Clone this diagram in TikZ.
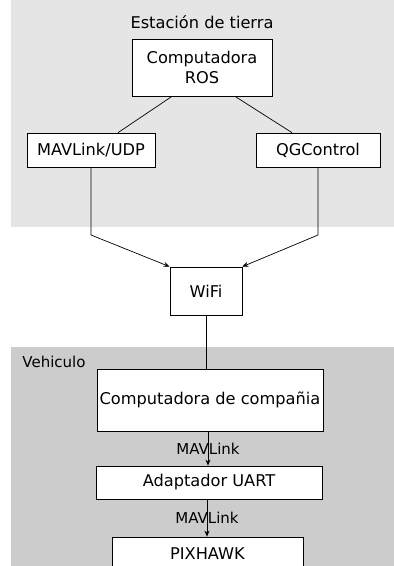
\documentclass[tikz,border=0pt]{standalone}
\usepackage{fontspec}
\setmainfont{DejaVu Sans}
\usetikzlibrary{arrows.meta}

\tikzset{
  box/.style={draw, fill=white, line width=0.7pt, font=\fontsize{16.2}{20}\selectfont, align=center, inner sep=0pt},
  link/.style={line width=0.7pt},
  flow/.style={line width=0.7pt, -{Stealth[length=6pt,width=5pt]}},
  tag/.style={font=\fontsize{15}{18}\selectfont}
}

\begin{document}
\begin{tikzpicture}[x=1pt,y=-1pt]
            \clip (0,0) rectangle (394,566);
            \fill[gray!20] (11,0) rectangle (394,227);
            \fill[gray!40] (11,347) rectangle (394,566);

            \node (T1) at (202,22) {\fontsize{16.2}{20}\selectfont Estación de tierra};
            \node[tag] (T2) at (54,362) {Vehiculo};

            \node[box, minimum width=140pt, minimum height=57pt] (ROS) at (202,67.5) {Computadora\\ROS};
            \node[box, minimum width=128pt, minimum height=34pt] (MAV) at (91,150) {MAVLink/UDP};
            \node[box, minimum width=124pt, minimum height=34pt] (QGC) at (318,150) {QGControl};
            \node[box, minimum width=72pt, minimum height=48pt] (WIFI) at (206,291) {WiFi};
            \node[box, minimum width=226pt, minimum height=62pt] (CC) at (210,400) {Computadora de compañia};
            \node[box, minimum width=226pt, minimum height=33pt] (UART) at (209,482.5) {Adaptador UART};
            \node[box, minimum width=191pt, minimum height=34pt] (PX) at (207.5,554) {PIXHAWK};

            \draw[link] ([xshift=-30pt]ROS.south) -- ([xshift=27pt]MAV.north);
            \draw[link] ([xshift=33pt]ROS.south) -- ([xshift=-26pt]QGC.north);
            \draw[flow] (MAV.south) -- (MAV.south |- 0,235) -- (WIFI.north west);
            \draw[flow] (QGC.south) -- (QGC.south |- 0,235) -- (WIFI.north east);
            \draw[link] (WIFI.south) -- (WIFI.south |- CC.north);
            \draw[flow] ([xshift=-2pt]CC.south) -- ([xshift=-2pt]CC.south |- UART.north) node[tag, midway] {MAVLink};
            \draw[flow] ([xshift=-2pt]UART.south) -- ([xshift=-2pt]UART.south |- PX.north) node[tag, midway] {MAVLink};

        \end{tikzpicture}
\end{document}
